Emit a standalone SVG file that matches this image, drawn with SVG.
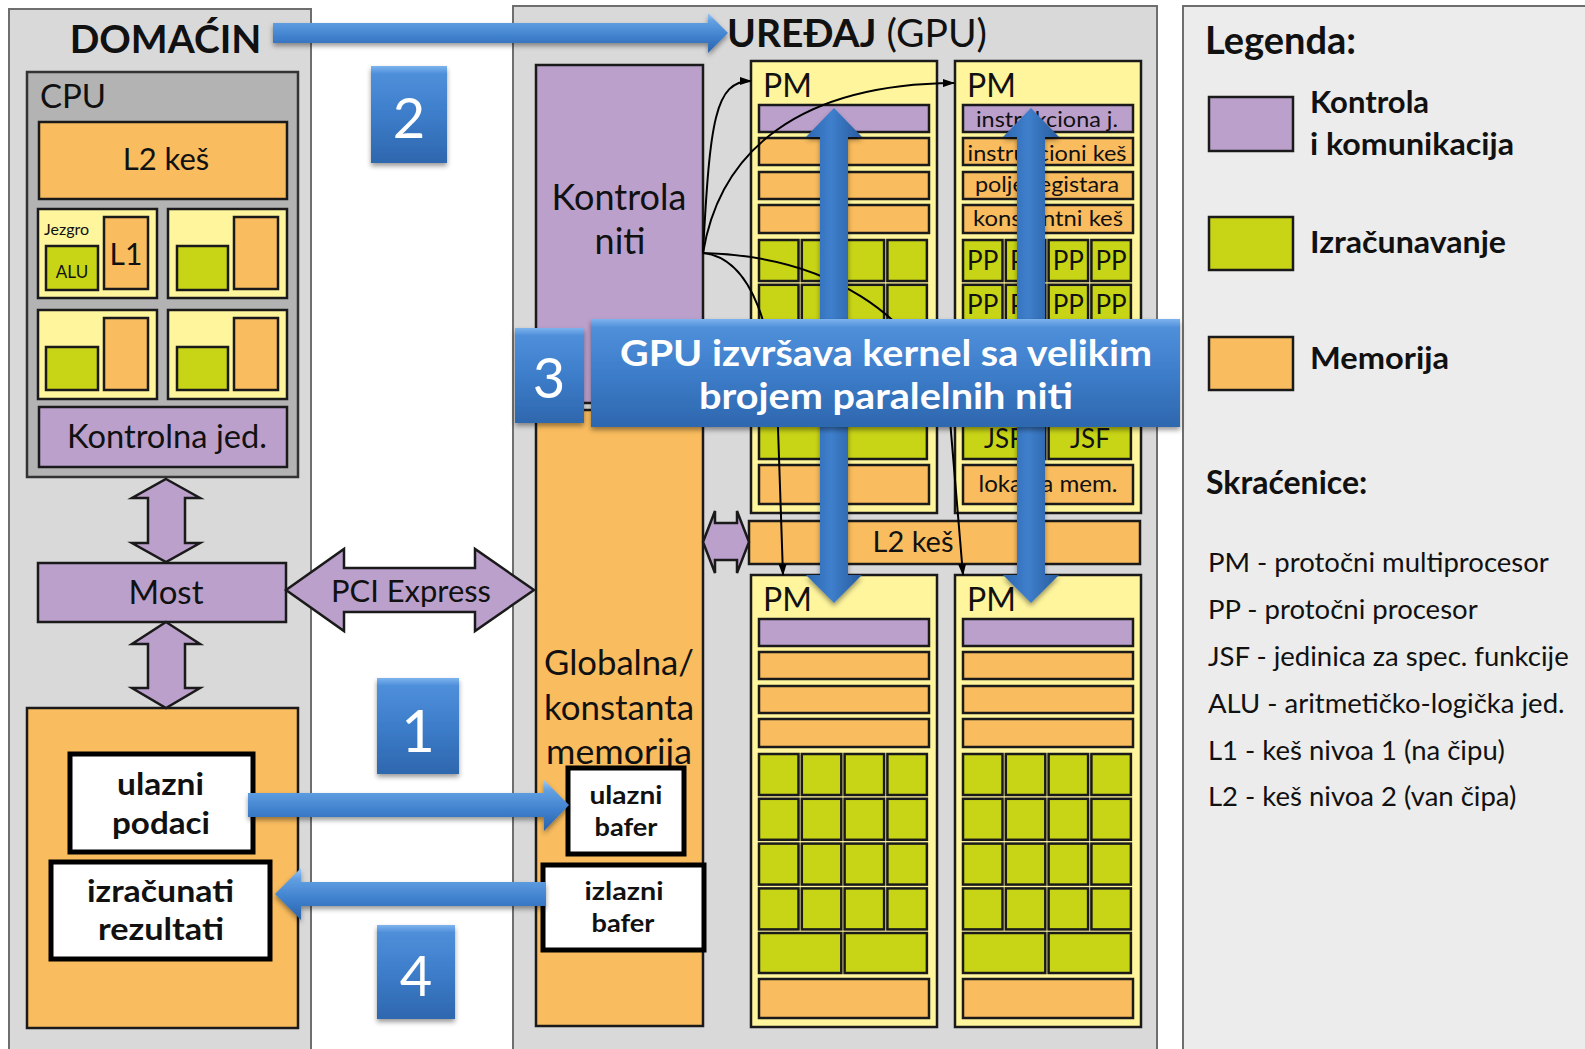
<svg xmlns="http://www.w3.org/2000/svg" width="1585" height="1049" viewBox="0 0 1585 1049">
  <defs>
    <style>
      .t { font-family: Lato, "Open Sans", "DejaVu Sans", sans-serif; fill: #111; }
      .b { font-weight: bold; }
      .w { fill: #fff; }
      .mid { text-anchor: middle; }
      .pnl { fill: #d9d9d9; stroke: #6e6e6e; stroke-width: 2; }
      .lgd { fill: #ececec; stroke: #6e6e6e; stroke-width: 2; }
      .cpu { fill: #b3b3b3; stroke: #333; stroke-width: 2.5; }
      .org { fill: #f9bc5e; stroke: #1a1a1a; stroke-width: 2.5; }
      .yel { fill: #fff59d; stroke: #1a1a1a; stroke-width: 2.5; }
      .grn { fill: #c8d416; stroke: #1a1a1a; stroke-width: 2.5; }
      .pur { fill: #bba0cc; stroke: #1a1a1a; stroke-width: 2.5; }
      .wht { fill: #fff; stroke: #000; stroke-width: 5; }
      .curve { fill: none; stroke: #000; stroke-width: 2; marker-end: url(#tip); }
      .bh { fill: url(#gradH); filter: url(#shadow); }
      .bv { fill: url(#gradV); filter: url(#shadow); }
      .tag { fill: url(#gradBox); filter: url(#shadow); }
    </style>
    <linearGradient id="gradH" x1="0" y1="0" x2="0" y2="1">
      <stop offset="0" stop-color="#9cc8f5"/>
      <stop offset="0.2" stop-color="#62a0e2"/>
      <stop offset="0.6" stop-color="#3f80cd"/>
      <stop offset="1" stop-color="#2b63aa"/>
    </linearGradient>
    <linearGradient id="gradV" x1="0" y1="0" x2="1" y2="0">
      <stop offset="0" stop-color="#2d67b0"/>
      <stop offset="0.45" stop-color="#3f7fcc"/>
      <stop offset="0.55" stop-color="#3a78c3"/>
      <stop offset="1" stop-color="#285c9e"/>
    </linearGradient>
    <linearGradient id="gradBox" x1="0" y1="0" x2="0" y2="1">
      <stop offset="0" stop-color="#7db3ee"/>
      <stop offset="0.08" stop-color="#4f8fda"/>
      <stop offset="0.5" stop-color="#3d7dca"/>
      <stop offset="1" stop-color="#2e67ae"/>
    </linearGradient>
    <filter id="shadow" x="-10%" y="-10%" width="120%" height="130%">
      <feDropShadow dx="0" dy="3" stdDeviation="2.5" flood-color="#000" flood-opacity="0.4"/>
    </filter>
    <marker id="tip" viewBox="0 0 12 8" refX="11" refY="4" markerWidth="12" markerHeight="8" markerUnits="userSpaceOnUse" orient="auto">
      <path d="M0,0 L12,4 L0,8 z" fill="#000"/>
    </marker>
    <!-- streaming multiprocessor layout, origin at its top-left corner -->
    <g id="pm">
      <rect class="yel" x="0" y="0" width="186" height="452"/>
      <rect class="pur" x="8" y="44" width="170" height="27"/>
      <rect class="org" x="8" y="77" width="170" height="27"/>
      <rect class="org" x="8" y="111" width="170" height="27"/>
      <rect class="org" x="8" y="144" width="170" height="28"/>
      <g id="pprow">
        <rect class="grn" x="8" y="179" width="39.5" height="41"/>
        <rect class="grn" x="50.8" y="179" width="39.5" height="41"/>
        <rect class="grn" x="93.6" y="179" width="39.5" height="41"/>
        <rect class="grn" x="136.4" y="179" width="39.5" height="41"/>
      </g>
      <use href="#pprow" y="44.8"/>
      <use href="#pprow" y="89.6"/>
      <use href="#pprow" y="134.4"/>
      <rect class="grn" x="8" y="358" width="82.3" height="40"/>
      <rect class="grn" x="93.6" y="358" width="82.3" height="40"/>
      <rect class="org" x="8" y="404" width="170" height="39"/>
    </g>
  </defs>

  <rect width="1585" height="1049" fill="#fff"/>

  <!-- host side -->
  <g id="host-panel">
    <rect class="pnl" x="9" y="9" width="302" height="1060"/>
    <text class="t b mid" x="165.5" y="53" font-size="39">DOMAĆIN</text>
  </g>
  <g id="cpu">
    <rect class="cpu" x="27" y="72" width="271" height="405"/>
    <text class="t" x="40" y="108" font-size="33">CPU</text>
  </g>
  <g id="cpu-l2">
    <rect class="org" x="39" y="122" width="248" height="77"/>
    <text class="t mid" x="166" y="170" font-size="31">L2 keš</text>
  </g>
  <g id="core-1">
    <rect class="yel" x="38" y="209" width="119" height="89"/>
    <text class="t" x="44" y="235" font-size="16">Jezgro</text>
    <rect class="grn" x="46" y="246" width="52" height="44"/>
    <text class="t mid" x="72" y="278" font-size="17">ALU</text>
    <rect class="org" x="104" y="217" width="44" height="72"/>
    <text class="t mid" x="126" y="265" font-size="30">L1</text>
  </g>
  <g id="core-2">
    <rect class="yel" x="168" y="209" width="119" height="89"/>
    <rect class="grn" x="177" y="246" width="51" height="44"/>
    <rect class="org" x="234" y="217" width="44" height="72"/>
  </g>
  <g id="core-3">
    <rect class="yel" x="38" y="310" width="119" height="89"/>
    <rect class="grn" x="46" y="347" width="52" height="43"/>
    <rect class="org" x="104" y="318" width="44" height="72"/>
  </g>
  <g id="core-4">
    <rect class="yel" x="168" y="310" width="119" height="89"/>
    <rect class="grn" x="177" y="347" width="51" height="43"/>
    <rect class="org" x="234" y="318" width="44" height="72"/>
  </g>
  <g id="cpu-control">
    <rect class="pur" x="39" y="407" width="248" height="60"/>
    <text class="t mid" x="167" y="448" font-size="32" textLength="200" lengthAdjust="spacingAndGlyphs">Kontrolna jed.</text>
  </g>
  <g id="bridge">
    <rect class="pur" x="38" y="563" width="248" height="59"/>
    <text class="t mid" x="166" y="604" font-size="33">Most</text>
  </g>
  <g id="host-memory">
    <rect class="org" x="27" y="708" width="271" height="320"/>
  </g>
  <g id="input-data">
    <rect class="wht" x="70" y="754" width="183" height="98"/>
    <text class="t b mid" x="160.5" y="795" font-size="31" textLength="87" lengthAdjust="spacingAndGlyphs">ulazni</text>
    <text class="t b mid" x="161" y="834" font-size="31" textLength="98" lengthAdjust="spacingAndGlyphs">podaci</text>
  </g>
  <g id="results">
    <rect class="wht" x="51" y="862" width="219" height="97"/>
    <text class="t b mid" x="160.5" y="902" font-size="31" textLength="147" lengthAdjust="spacingAndGlyphs">izračunati</text>
    <text class="t b mid" x="161" y="940" font-size="31" textLength="126" lengthAdjust="spacingAndGlyphs">rezultati</text>
  </g>

  <!-- device side -->
  <g id="device-panel">
    <rect class="pnl" x="513" y="6" width="644" height="1060"/>
    <text class="t" x="727" y="47" font-size="39"><tspan class="b">UREĐAJ</tspan> (GPU)</text>
  </g>
  <g id="thread-control">
    <rect class="pur" x="536" y="65" width="167" height="338"/>
    <text class="t mid" x="619" y="210" font-size="36">Kontrola</text>
    <text class="t mid" x="620" y="254" font-size="36">niti</text>
  </g>
  <g id="global-memory">
    <rect class="org" x="536" y="410" width="167" height="616"/>
    <text class="t mid" x="619" y="675" font-size="34" textLength="150" lengthAdjust="spacingAndGlyphs">Globalna/</text>
    <text class="t mid" x="619" y="720" font-size="34" textLength="150" lengthAdjust="spacingAndGlyphs">konstanta</text>
    <text class="t mid" x="619" y="764" font-size="34" textLength="146" lengthAdjust="spacingAndGlyphs">memorija</text>
  </g>
  <g id="input-buffer">
    <rect class="wht" x="568" y="768" width="116" height="86"/>
    <text class="t b mid" x="626" y="804" font-size="25" textLength="73" lengthAdjust="spacingAndGlyphs">ulazni</text>
    <text class="t b mid" x="626" y="836" font-size="25" textLength="63" lengthAdjust="spacingAndGlyphs">bafer</text>
  </g>
  <g id="output-buffer">
    <rect class="wht" x="543" y="865" width="161" height="85"/>
    <text class="t b mid" x="624" y="900" font-size="25" textLength="79" lengthAdjust="spacingAndGlyphs">izlazni</text>
    <text class="t b mid" x="623" y="932" font-size="25" textLength="63" lengthAdjust="spacingAndGlyphs">bafer</text>
  </g>
  <g id="pm-1">
    <use href="#pm" x="751" y="61"/>
    <text class="t" x="763" y="97" font-size="32">PM</text>
  </g>
  <g id="pm-2">
    <use href="#pm" x="955" y="61"/>
    <text class="t" x="967" y="97" font-size="32">PM</text>
    <text class="t mid" x="1047" y="127" font-size="22" textLength="142" lengthAdjust="spacingAndGlyphs">instrukciona j.</text>
    <text class="t mid" x="1047" y="161" font-size="22" textLength="159" lengthAdjust="spacingAndGlyphs">instrukcioni keš</text>
    <text class="t mid" x="1047" y="192" font-size="22" textLength="144" lengthAdjust="spacingAndGlyphs">polje registara</text>
    <text class="t mid" x="1048" y="226" font-size="22" textLength="150" lengthAdjust="spacingAndGlyphs">konstantni keš</text>
    <g class="t mid" font-size="26">
      <text x="982.7" y="270">PP</text><text x="1025.5" y="270">PP</text><text x="1068.3" y="270">PP</text><text x="1111.1" y="270">PP</text>
      <text x="982.7" y="314">PP</text><text x="1025.5" y="314">PP</text><text x="1068.3" y="314">PP</text><text x="1111.1" y="314">PP</text>
      <text x="1004" y="448">JSF</text><text x="1090" y="448">JSF</text>
    </g>
    <text class="t mid" x="1048" y="492" font-size="23" textLength="139" lengthAdjust="spacingAndGlyphs">lokalna mem.</text>
  </g>
  <g id="device-l2">
    <rect class="org" x="749" y="521" width="391" height="43"/>
    <text class="t mid" x="913" y="552" font-size="29">L2 keš</text>
  </g>
  <g id="pm-3">
    <use href="#pm" x="751" y="575"/>
    <text class="t" x="763" y="611" font-size="32">PM</text>
  </g>
  <g id="pm-4">
    <use href="#pm" x="955" y="575"/>
    <text class="t" x="967" y="611" font-size="32">PM</text>
  </g>

  <!-- legend -->
  <g id="legend">
    <rect class="lgd" x="1183" y="6" width="420" height="1060"/>
    <text class="t b" x="1205" y="54" font-size="38">Legenda:</text>
    <rect class="pur" x="1209" y="97" width="84" height="54"/>
    <text class="t b" x="1310" y="113" font-size="31">Kontrola</text>
    <text class="t b" x="1310" y="155" font-size="31" textLength="204" lengthAdjust="spacingAndGlyphs">i komunikacija</text>
    <rect class="grn" x="1209" y="217" width="84" height="53"/>
    <text class="t b" x="1310" y="253" font-size="31" textLength="196" lengthAdjust="spacingAndGlyphs">Izračunavanje</text>
    <rect class="org" x="1209" y="337" width="84" height="53"/>
    <text class="t b" x="1310" y="369" font-size="31" textLength="139" lengthAdjust="spacingAndGlyphs">Memorija</text>
    <text class="t b" x="1206" y="494" font-size="32">Skraćenice:</text>
    <g class="t" font-size="27.5">
      <text x="1208" y="572">PM - protočni multiprocesor</text>
      <text x="1208" y="619">PP - protočni procesor</text>
      <text x="1208" y="666">JSF - jedinica za spec. funkcije</text>
      <text x="1208" y="713">ALU - aritmetičko-logička jed.</text>
      <text x="1208" y="760">L1 - keš nivoa 1 (na čipu)</text>
      <text x="1208" y="806">L2 - keš nivoa 2 (van čipa)</text>
    </g>
  </g>

  <!-- connectors -->
  <g id="connectors">
    <polygon class="pur" points="166,479 200,498 185,498 185,543 200,543 166,562 132,543 148,543 148,498 132,498"/>
    <polygon class="pur" points="166,622 200,644 185,644 185,688 200,688 166,708 132,688 148,688 148,644 132,644"/>
    <polygon class="pur" points="286,590 344,549 344,568 475,568 475,549 534,590 475,631 475,612 344,612 344,631"/>
    <text class="t mid" x="411" y="602" font-size="30" textLength="160" lengthAdjust="spacingAndGlyphs">PCI Express</text>
    <polygon class="pur" points="703,542 715,511 715,523 737,523 737,511 749,542 737,573 737,560 715,560 715,573"/>

    <path class="curve" d="M703,253 C710,120 715,81 751,81"/>
    <path class="curve" d="M703,253 C720,150 800,84 954,83"/>
    <path class="curve" d="M703,253 C752,258 775,330 778,428 L783,575"/>
    <path class="curve" d="M703,253 C820,256 925,310 950,420 L963,575"/>

    <polygon class="bv" points="834,108 862,137 848,137 848,575 862,575 834,603 806,575 820,575 820,137 806,137"/>
    <polygon class="bv" points="1031,108 1059,137 1045,137 1045,575 1059,575 1031,603 1003,575 1017,575 1017,137 1003,137"/>

    <polygon class="bh" points="273,23 708,23 708,13 728,33 708,53 708,43 273,43"/>
    <polygon class="bh" points="248,793 544,793 544,780 569,805 544,831 544,817 248,817"/>
    <polygon class="bh" points="546,882 301,882 301,868 275,894 301,920 301,906 546,906"/>
  </g>

  <!-- step labels -->
  <g id="step-2">
    <rect class="tag" x="371" y="66" width="76" height="97"/>
    <text class="t w mid" x="409" y="138" font-size="56">2</text>
  </g>
  <g id="step-1">
    <rect class="tag" x="377" y="678" width="82" height="96"/>
    <text class="t w mid" x="418" y="752" font-size="58">1</text>
  </g>
  <g id="step-4">
    <rect class="tag" x="377" y="925" width="78" height="94"/>
    <text class="t w mid" x="416" y="996" font-size="56">4</text>
  </g>
  <g id="step-3">
    <rect class="tag" x="515" y="328" width="69" height="95"/>
    <text class="t w mid" x="549" y="398" font-size="56">3</text>
  </g>
  <g id="kernel-banner">
    <rect class="tag" x="591" y="319" width="589" height="108"/>
    <text class="t b w mid" x="886" y="366" font-size="36" textLength="532" lengthAdjust="spacingAndGlyphs">GPU izvršava kernel sa velikim</text>
    <text class="t b w mid" x="886" y="409" font-size="36" textLength="374" lengthAdjust="spacingAndGlyphs">brojem paralelnih niti</text>
  </g>
</svg>
